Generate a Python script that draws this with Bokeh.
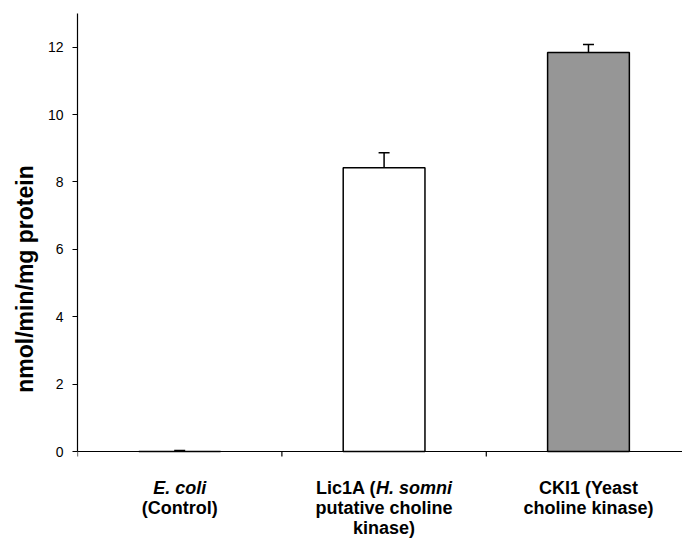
from bokeh.plotting import figure
from bokeh.models import Range1d, ColumnDataSource, Whisker, TeeHead, Title, FixedTicker, Span
from bokeh.core.properties import value
from bokeh.embed import file_html
from bokeh.resources import INLINE

# ---- data ----
categories = ["E. coli (Control)",
              "Lic1A (H. somni putative choline kinase)",
              "CKI1 (Yeast choline kinase)"]
activity = [0.0, 8.42, 11.84]          # nmol/min/mg protein
error = [0.03, 0.45, 0.24]
bar_colors = ["#ffffff", "#ffffff", "#969696"]
y_ticks = [0, 2, 4, 6, 8, 10, 12]
y_label = "nmol/min/mg protein"

# category label lines: list of (text, style) pieces per line
cat_label_lines = [
    [[("E. coli", "bold italic")], [("(Control)", "bold")]],
    [[("Lic1A (", "bold"), ("H. somni", "bold italic")],
     [("putative choline", "bold")], [("kinase)", "bold")]],
    [[("CKI1 (Yeast", "bold")], [("choline kinase)", "bold")]],
]

FONT = "Liberation Sans"

p = figure(width=682, height=544, output_backend="svg", toolbar_location=None,
           x_range=Range1d(0, 2.96), y_range=Range1d(-2.76, 13),
           x_axis_location=None, y_axis_location="left",
           min_border_left=77, min_border_right=0, min_border_top=13, min_border_bottom=0)
p.grid.visible = False
p.outline_line_color = None
p.background_fill_color = "white"
p.border_fill_color = "white"

ax = p.yaxis[0]
ax.bounds = (0, 13)
ax.ticker = FixedTicker(ticks=y_ticks)
ax.minor_tick_line_color = None
ax.major_tick_in = 0
ax.major_tick_out = 5
ax.major_label_standoff = 9
ax.axis_line_color = "black"
ax.axis_line_width = 1.2
ax.major_tick_line_color = "black"
ax.major_tick_line_width = 1.2
ax.major_label_text_font = FONT
ax.major_label_text_font_size = "14px"
ax.major_label_text_color = "black"

p.add_layout(Title(text=y_label, align="center", text_font=FONT,
                   text_font_size="23px", text_font_style="bold",
                   text_color="black", standoff=14), "left")

n = len(categories)
centers = [i + 0.5 for i in range(n)]
src = ColumnDataSource(dict(x=centers, top=activity,
                            upper=[a + e for a, e in zip(activity, error)],
                            color=bar_colors))

# x axis line and category separator ticks
p.add_layout(Span(location=0, dimension="width", line_color="black", line_width=1.2))
bounds = [float(i) for i in range(n)]
p.segment(x0=bounds, y0=[0] * n, x1=bounds, y1=[-0.15] * n,
          line_color="black", line_width=1.2)

p.vbar(x="x", top="top", bottom=0, width=0.40, fill_color="color",
       line_color="black", line_width=1.5, source=src)

p.add_layout(Whisker(source=src, base="x", lower="top", upper="upper",
                     dimension="height", line_color="black", line_width=1.5,
                     upper_head=TeeHead(size=11, line_color="black", line_width=1.5),
                     lower_head=None))

# category labels (mixed bold / bold italic)
FS = 18
widths = {"L": 611, "i": 278, "c": 556, "1": 556, "A": 722, " ": 278, "(": 333,
          "H": 722, ".": 278, "s": 556, "o": 611, "m": 889, "n": 611}


def text_w(s):
    return sum(widths.get(ch, 600) for ch in s) * FS / 1000.0


for ci, lines in enumerate(cat_label_lines):
    for li, pieces in enumerate(lines):
        yoff = 36 + li * 20
        if len(pieces) == 1:
            txt, style = pieces[0]
            p.text(x=[centers[ci]], y=[0], text=[txt], text_align="center",
                   text_baseline="middle", y_offset=yoff,
                   text_font=value(FONT), text_font_size=f"{FS}px",
                   text_font_style=style, text_color="black")
        else:
            total = sum(text_w(t) for t, _ in pieces)
            xpos = -total / 2.0
            for txt, style in pieces:
                p.text(x=[centers[ci]], y=[0], text=[txt], text_align="left",
                       text_baseline="middle", x_offset=xpos, y_offset=yoff,
                       text_font=value(FONT), text_font_size=f"{FS}px",
                       text_font_style=style, text_color="black")
                xpos += text_w(txt)

open("out.html", "w").write(file_html(p, INLINE))
